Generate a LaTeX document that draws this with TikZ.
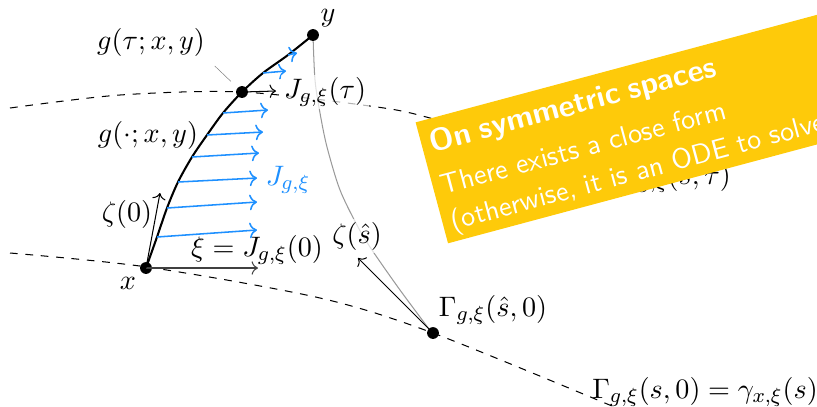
\documentclass[11pt,tikz,border=0pt]{standalone}
\usepackage{amsmath}
\usepackage{amssymb}
\usetikzlibrary{calc, positioning}
\usetikzlibrary{arrows.meta}

\definecolor{fieldblue}{RGB}{30,144,255}
\definecolor{bannergold}{RGB}{254,202,10}

\tikzset{
  dot/.style={circle, fill=black, inner sep=0pt, minimum size=4.6pt},
  veil/.style={fill=white, fill opacity=0.7, text opacity=1, inner sep=1pt},
  jac/.style={->, fieldblue, semithick},
  banner/.style={fill=bannergold, text=white, font=\sffamily, align=left,
    text width=200pt, inner xsep=3.3pt, inner ysep=2.4pt}
}

\begin{document}
\begin{tikzpicture}[x=0.389pt, y=-0.389pt]
\useasboundingbox (0,0) rectangle (817,406);

% geodesics gamma and Gamma(.,tau)
\draw[dashed] plot[smooth] coordinates {(10,253) (147,267) (320,298) (433,333) (612,406)};
\draw[dashed] plot[smooth] coordinates {(10,108) (120,95) (242,92) (377,107) (430,118) (520,145) (625,185)};

% transversal curve Gamma(shat,.)
\draw[gray!80, thin] plot[smooth] coordinates {(313,35) (315,80) (320,113) (327,147) (340,190) (358,227) (372,250) (400,290) (432,333)};

% geodesic g(.;x,y)
\draw[thick] plot[smooth] coordinates {(146,268) (157,237) (167,208) (178,182) (192,157) (207,135) (223,113) (242,92) (263,73) (288,55) (313,35)};

% Jacobi field along g
\foreach \sx/\sy/\ex/\ey in {157/237/257/230, 167/208/257/202, 178/182/257/178,
  192/157/259/153, 207/135/263/132, 223/113/268/110, 263/73/286/71, 288/55/297/53}
  \draw[jac] (\sx,\sy) -- (\ex,\ey);

\node[dot] (x) at (146,268) {};
\node[dot] (y) at (313,35) {};
\node[dot] (gtau) at (242,92) {};
\node[dot] (gshat) at (433,333) {};

\coordinate (xitip) at (258,268);
\coordinate (zetatip) at (160,193);
\coordinate (jtautip) at (276,91);
\coordinate (zetahattip) at (358,258);

\draw[->, black!75] (x.center) -- (xitip);
\draw[->] (x.center) -- (zetatip);
\draw[->] (gtau.center) -- (jtautip);
\draw[->] (gshat.center) -- (zetahattip);

% labels
\node (xlbl) at (128,283) {$x$};
\node (ylbl) at (328,18) {$y$};
\node (gtaulbl) at (151,42) {$g(\tau;x,y)$};
\draw[help lines, shorten >=3.5pt] (gtaulbl.south east) -- (gtau);
\node (glbl) at (148,135) {$g(\cdot;x,y)$};
\node (zetalbl) at (127,214) {$\zeta(0)$};
\node (xilbl) at (257,250) {$\xi = J_{g,\xi}(0)$};
\node[veil] (jtaulbl) at (325,92) {$J_{g,\xi}(\tau)$};
\node[text=fieldblue] (jlbl) at (288,180) {$J_{g,\xi}$};
\node[veil] (zetahatlbl) at (357,236) {$\zeta(\hat{s})$};
\node (gshatlbl) at (493,310) {$\Gamma_{g,\xi}(\hat{s},0)$};
\node (gstaulbl) at (676,178) {$\Gamma_{g,\xi}(s,\tau)$};
\node (gs0lbl) at (705,392) {$\Gamma_{g,\xi}(s,0) = \gamma_{x,\xi}(s)$};

% remark box
\node[banner, rotate=15, anchor=north west] (note) at (415,122)
  {\rule{0pt}{10.6pt}{\large\bfseries On symmetric spaces}\\[3.4pt]
   There exists a close form\\[0.7pt]
   \smash[b]{(otherwise, it is an ODE to solve)}\rule[-2pt]{0pt}{2pt}};
\end{tikzpicture}
\end{document}
